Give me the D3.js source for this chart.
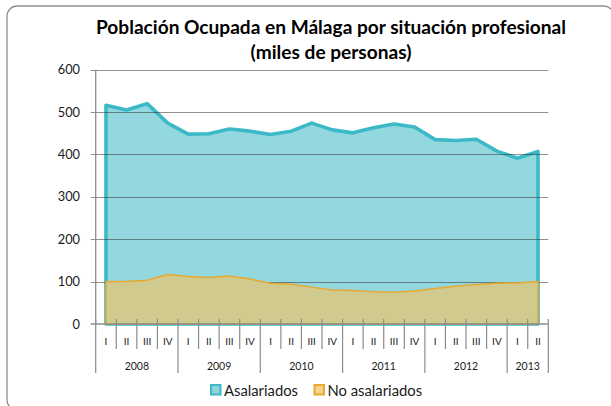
<!DOCTYPE html>
<html>
<head>
<meta charset="utf-8">
<script src="https://cdn.jsdelivr.net/npm/d3@7"></script>
<style>
  body { margin: 0; background: #fff; }
  svg { display: block; font-family: Lato, "Open Sans", sans-serif; }
</style>
</head>
<body>
<div id="chart"></div>
<script>
// data
var years = ["2008", "2009", "2010", "2011", "2012", "2013"]
var quarters = ["I", "II", "III", "IV", "I", "II", "III", "IV", "I", "II", "III", "IV",
                "I", "II", "III", "IV", "I", "II", "III", "IV", "I", "II"]
var yearOfQuarter = [0,0,0,0, 1,1,1,1, 2,2,2,2, 3,3,3,3, 4,4,4,4, 5,5]
var asalariados = [516, 505, 520, 474, 448, 449, 460, 455, 447, 455, 474, 458,
                   451, 463, 472, 465, 435, 433, 436, 408, 391, 407]
var noAsalariados = [100, 100, 103, 117, 112, 110, 113, 106, 96, 94, 87, 80,
                     79, 76, 75, 78, 84, 89, 93, 96, 97, 100]
var yTicks = [0, 100, 200, 300, 400, 500, 600]
var titleLines = ["Población Ocupada en Málaga por situación profesional", "(miles de personas)"]
var seriesNames = ["Asalariados", "No asalariados"]

var config = {
  width: 611,
  height: 406,
  plot: { left: 95.7, right: 548.3, top: 69.7, bottom: 324 },
  colors: {
    asalFill: "#93d8df", asalStroke: "#3bb9c6",
    noFill: "#d1ca8f", noStroke: "#e9a92e",
    grid: "rgba(55,55,55,0.55)", axis: "#8c8c8c", text: "#1a1a1a"
  }
}

var svg = d3.select("#chart").append("svg")
    .attr("width", config.width)
    .attr("height", config.height)

// outer rounded border (right and bottom run off the picture)
svg.append("rect")
    .attr("x", 7).attr("y", 6)
    .attr("width", 607).attr("height", 404)
    .attr("rx", 10)
    .attr("fill", "none")
    .attr("stroke", "#8f8f8f")
    .attr("stroke-width", 1.3)

// title
svg.append("text")
    .attr("text-anchor", "middle")
    .attr("font-weight", "bold")
    .attr("font-size", 19.1)
    .attr("fill", "#000")
  .selectAll("tspan")
    .data(titleLines)
  .enter().append("tspan")
    .attr("x", 331)
    .attr("y", function(d, i){ return 34 + i * 25 })
    .text(function(d){ return d })

var p = config.plot
var x = d3.scaleBand().domain(d3.range(quarters.length)).range([p.left, p.right])
var y = d3.scaleLinear().domain([0, 600]).range([p.bottom, p.top])
var cx = function(d, i){ return x(i) + x.bandwidth() / 2 }

// closed outline like excel area charts
function areaPath(values){
  var pts = values.map(function(v, i){ return [cx(v, i), y(v)] })
  var first = pts[0][0], last = pts[pts.length - 1][0]
  var path = d3.path()
  path.moveTo(first, y(0))
  pts.forEach(function(pt){ path.lineTo(pt[0], pt[1]) })
  path.lineTo(last, y(0))
  path.closePath()
  return path.toString()
}

// asalariados area
svg.append("path")
    .attr("d", areaPath(asalariados))
    .attr("fill", config.colors.asalFill)
    .attr("stroke", config.colors.asalStroke)
    .attr("stroke-width", 3.6)
    .attr("stroke-linejoin", "round")

// gridlines over the area
svg.append("g").selectAll("line")
    .data(yTicks.filter(function(t){ return t > 0 }))
  .enter().append("line")
    .attr("x1", p.left - 5).attr("x2", p.right)
    .attr("y1", function(d){ return Math.round(y(d)) + 0.5 })
    .attr("y2", function(d){ return Math.round(y(d)) + 0.5 })
    .attr("stroke", config.colors.grid)
    .attr("stroke-width", 1.2)

// no asalariados area
svg.append("path")
    .attr("d", areaPath(noAsalariados))
    .attr("fill", config.colors.noFill)
    .attr("stroke", config.colors.noStroke)
    .attr("stroke-width", 1.5)
    .attr("stroke-linejoin", "round")

// y axis
var yAxis = svg.append("g")
yAxis.append("line")
    .attr("x1", p.left).attr("x2", p.left)
    .attr("y1", p.top).attr("y2", p.bottom)
    .attr("stroke", config.colors.axis).attr("stroke-width", 1.3)
yAxis.selectAll("text")
    .data(yTicks)
  .enter().append("text")
    .attr("x", 80)
    .attr("y", function(d){ return y(d) + 4.5 })
    .attr("text-anchor", "end")
    .attr("font-size", 12.8)
    .attr("fill", config.colors.text)
    .text(function(d){ return d })

// x axis baseline
var xAxis = svg.append("g")
xAxis.append("line")
    .attr("x1", p.left - 5).attr("x2", p.right)
    .attr("y1", p.bottom).attr("y2", p.bottom)
    .attr("stroke", config.colors.axis).attr("stroke-width", 1.3)

// separators: short for quarters, long at year boundaries
var seps = d3.range(quarters.length + 1)
xAxis.selectAll(".sep")
    .data(seps)
  .enter().append("line")
    .attr("class", "sep")
    .attr("x1", function(d){ return d < quarters.length ? x(d) : p.right })
    .attr("x2", function(d){ return d < quarters.length ? x(d) : p.right })
    .attr("y1", p.bottom - 5)
    .attr("y2", function(d){
      var isYear = d === 0 || d === quarters.length || yearOfQuarter[d] !== yearOfQuarter[d - 1]
      return isYear ? 373 : 349
    })
    .attr("stroke", config.colors.axis)
    .attr("stroke-width", 1.2)

xAxis.selectAll(".q")
    .data(quarters)
  .enter().append("text")
    .attr("class", "q")
    .attr("x", cx)
    .attr("y", 345)
    .attr("text-anchor", "middle")
    .attr("font-size", 10)
    .attr("fill", config.colors.text)
    .text(function(d){ return d })

xAxis.selectAll(".yr")
    .data(years)
  .enter().append("text")
    .attr("class", "yr")
    .attr("x", function(d, yi){
      var idx = d3.range(quarters.length).filter(function(i){ return yearOfQuarter[i] === yi })
      return (x(idx[0]) + x(idx[idx.length - 1]) + x.bandwidth()) / 2
    })
    .attr("y", 370)
    .attr("text-anchor", "middle")
    .attr("font-size", 10.5)
    .attr("fill", config.colors.text)
    .text(function(d){ return d })

// legend
var legendX = [210, 313.5]
var legendFill = ["#8fd3da", "#f2d28f"]
var legendStroke = [config.colors.asalStroke, config.colors.noStroke]
var legend = svg.append("g").selectAll("g")
    .data(seriesNames)
  .enter().append("g")
    .attr("transform", function(d, i){ return "translate(" + legendX[i] + ",385)" })
legend.append("rect")
    .attr("x", 1).attr("y", 0)
    .attr("width", 9.5).attr("height", 9.5)
    .attr("fill", function(d, i){ return legendFill[i] })
    .attr("stroke", function(d, i){ return legendStroke[i] })
    .attr("stroke-width", 2)
legend.append("text")
    .attr("x", 14)
    .attr("y", 10.5)
    .attr("font-size", 14.8)
    .attr("fill", config.colors.text)
    .text(function(d){ return d })
</script>
</body>
</html>
